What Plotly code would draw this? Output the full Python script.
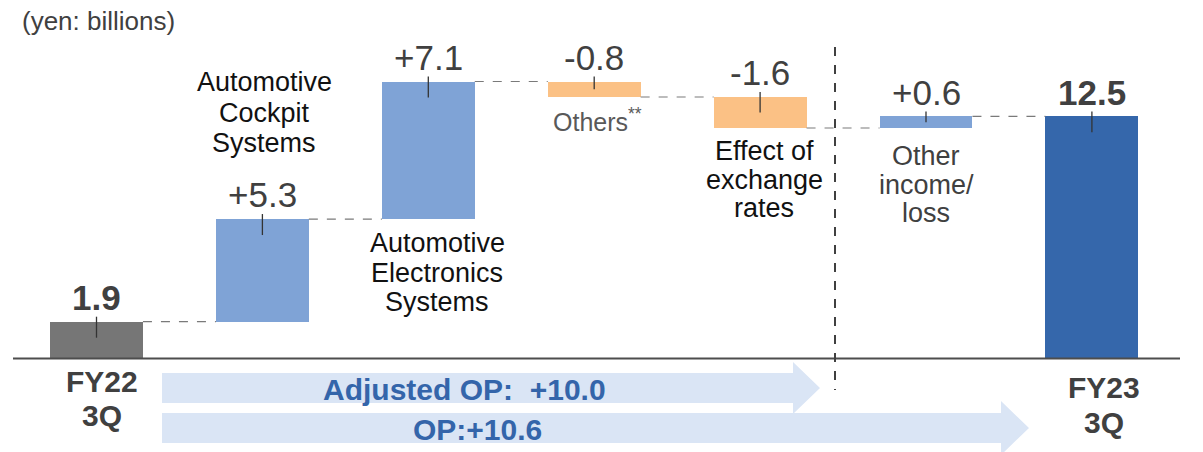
import plotly.graph_objects as go

# ---------------- data ----------------
categories = ["FY22 3Q", "Automotive Cockpit Systems", "Automotive Electronics Systems",
              "Others**", "Effect of exchange rates", "Other income/loss", "FY23 3Q"]
values = [1.9, 5.3, 7.1, -0.8, -1.6, 0.6, 12.5]
measures = ["total", "delta", "delta", "delta", "delta", "delta", "total"]
value_labels = ["1.9", "+5.3", "+7.1", "-0.8", "-1.6", "+0.6", "12.5"]
bar_colors = ["#767676", "#7FA3D6", "#7FA3D6", "#FBC185", "#FBC185", "#7FA3D6", "#3567AB"]
adjusted_op_label = "Adjusted OP:&nbsp; +10.0"
op_label = "OP:+10.6"
unit_label = "(yen: billions)"

W, H = 1203, 452
OFF = 0  # page body margin is removed below
X0PX, XSTEP = 96.5, 165.9     # window pixel of category 0, pixels per category
Y0PX, YSCALE = 358.5, 19.37   # window pixel of value 0, pixels per unit
xr = [(OFF - X0PX) / XSTEP, (OFF + W - X0PX) / XSTEP]
yr = [-(OFF + H - Y0PX) / YSCALE, (Y0PX - OFF) / YSCALE]

def px(xp):
    return (xp - X0PX) / XSTEP

def py(yp):
    return (Y0PX - yp) / YSCALE

# waterfall geometry from the values
bases, heights, tops, levels = [], [], [], []
cum = 0.0
for v, m in zip(values, measures):
    if m == "total":
        b, h = 0.0, v
        cum = v
    else:
        b = cum if v >= 0 else cum + v
        h = abs(v)
        cum += v
    bases.append(b)
    heights.append(h)
    tops.append(b + h)
    levels.append(cum)

xs = list(range(len(values)))
BW = 0.56

fig = go.Figure()
fig.add_trace(go.Bar(x=xs, y=heights, base=bases, width=BW,
                     marker=dict(color=bar_colors, line=dict(width=0)),
                     hoverinfo="skip", showlegend=False))

shapes = []
# block arrows (drawn below everything)
def arrow(x0, x1, xh, yt, yb, ht, hb):
    pts = [(x0, yt), (x1, yt), (x1, ht), (xh, (yt + yb) / 2), (x1, hb), (x1, yb), (x0, yb)]
    path = "M " + " L ".join(f"{px(a):.4f},{py(b):.4f}" for a, b in pts) + " Z"
    return dict(type="path", xref="x", yref="y", path=path,
                fillcolor="#DAE5F5", line=dict(width=0), layer="below")

shapes.append(arrow(162, 793, 820, 373, 403, 362, 414))
shapes.append(arrow(162, 1001, 1029, 413, 443, 401, 455))

# connectors
for i in range(len(values) - 1):
    lvl = levels[i]
    shapes.append(dict(type="line", xref="x", yref="y",
                       x0=xs[i] + BW / 2, x1=xs[i + 1] - BW / 2, y0=lvl, y1=lvl,
                       line=dict(color="#7A7A7A", width=1.2, dash="dash")))
# little tick marks at bar tops
for i in range(len(values)):
    t = tops[i]
    low = max(t - 16 / YSCALE, t - heights[i] / 2)
    shapes.append(dict(type="line", xref="x", yref="y",
                       x0=xs[i], x1=xs[i], y0=t + 5 / YSCALE, y1=low,
                       line=dict(color="#333333", width=1.3)))
# baseline
shapes.append(dict(type="line", xref="x", yref="y", x0=px(13), x1=px(1180), y0=0, y1=0,
                   line=dict(color="#4D4D4D", width=1.8)))
# vertical dashed separator
shapes.append(dict(type="line", xref="x", yref="y", x0=px(835), x1=px(835), y0=py(47), y1=py(390),
                   line=dict(color="#404040", width=2, dash="dash")))

annotations = []
# value labels (baseline 12 px above bar top)
VS = 35
for i, lab in enumerate(value_labels):
    bold = measures[i] == "total"
    annotations.append(dict(x=xs[i], y=tops[i], xref="x", yref="y",
                            text=f"<b>{lab}</b>" if bold else lab,
                            showarrow=False, xanchor="center", yanchor="middle",
                            yshift=12 + 0.35 * VS,
                            font=dict(family="Arial", size=VS, color="#404040")))

def line(x, base, s, size=27, color="#111111", bold=False, anchor="center"):
    annotations.append(dict(x=px(x), y=py(base - 0.35 * size), xref="x", yref="y",
                            text=f"<b>{s}</b>" if bold else s,
                            showarrow=False, xanchor=anchor, yanchor="middle",
                            font=dict(family="Arial", size=size, color=color)))

def block(x, baselines, lines, **kw):
    for b, s in zip(baselines, lines):
        line(x, b, s, **kw)

block(264, [91, 122, 152], ["Automotive", "Cockpit", "Systems"])
block(437, [252, 282, 311], ["Automotive", "Electronics", "Systems"])
line(597, 129, "Others<sup>**</sup>", size=25, color="#595959")
block(764, [160, 189, 217], ["Effect of", "exchange", "rates"])
block(926, [165, 194, 222], ["Other", "income/", "loss"], color="#404040")
block(102, [392, 426], ["FY22", "3Q"], size=30, color="#404040", bold=True)
block(1104, [398, 433], ["FY23", "3Q"], size=30, color="#404040", bold=True)
line(464, 400, adjusted_op_label, size=30, color="#3465AA", bold=True)
line(477, 440, op_label, size=30, color="#3465AA", bold=True)
line(20, 30, unit_label, size=26, color="#404040", anchor="left")

fig.update_layout(
    width=W, height=H,
    margin=dict(l=0, r=0, t=0, b=0),
    paper_bgcolor="white", plot_bgcolor="white",
    xaxis=dict(range=xr, visible=False, fixedrange=True),
    yaxis=dict(range=yr, visible=False, fixedrange=True),
    shapes=shapes, annotations=annotations,
    bargap=0,
)
fig.write_html("out.html",
               config={"displayModeBar": False, "staticPlot": True},
               post_script="document.body.style.margin='0';document.body.style.overflow='hidden';")
